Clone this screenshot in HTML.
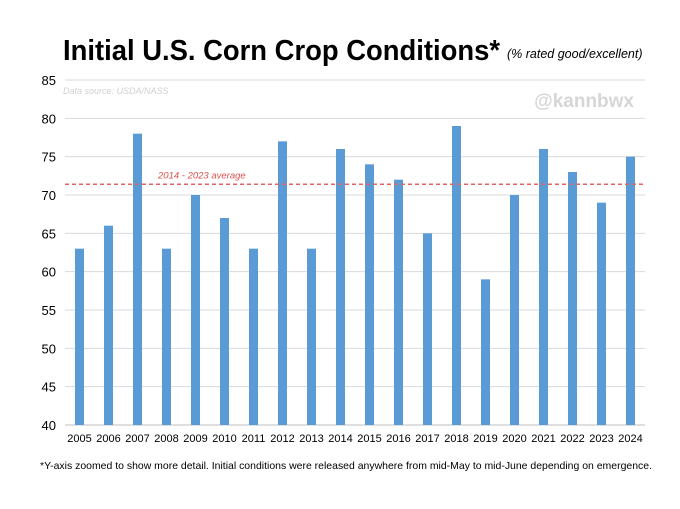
<!DOCTYPE html>
<html><head><meta charset="utf-8"><style>
body{margin:0;background:#fff;font-family:"Liberation Sans",Arial,sans-serif;}
svg text{font-family:"Liberation Sans",Arial,sans-serif;}
</style></head><body>
<svg id="chart" width="680" height="504" xmlns="http://www.w3.org/2000/svg">
<rect width="680" height="504" fill="#fff"/>
<text x="63" y="60" font-size="29" font-weight="bold" fill="#000" textLength="437" lengthAdjust="spacingAndGlyphs">Initial U.S. Corn Crop Conditions*</text>
<text x="507" y="58" font-size="12.5" font-style="italic" fill="#000">(% rated good/excellent)</text>
<text x="63" y="94" font-size="9" font-style="italic" fill="#d0d0d0">Data source: USDA/NASS</text>
<text x="634" y="107" font-size="19" font-weight="bold" fill="#d6d6d6" text-anchor="end">@kannbwx</text>
<g id="grid"></g><g id="bars"></g><g id="avg"></g>
<text x="40" y="469" font-size="10.3" fill="#000" textLength="612" lengthAdjust="spacingAndGlyphs">*Y-axis zoomed to show more detail. Initial conditions were released anywhere from mid-May to mid-June depending on emergence.</text>
</svg>
<script>
const years=["2005","2006","2007","2008","2009","2010","2011","2012","2013","2014","2015","2016","2017","2018","2019","2020","2021","2022","2023","2024"];
const values=[63,66,78,63,70,67,63,77,63,76,74,72,65,79,59,70,76,73,69,75];
const yTicks=[40,45,50,55,60,65,70,75,80,85];
const average=[71.4];
const avgLabel=["2014 - 2023 average"];
const NS="http://www.w3.org/2000/svg";
const x0=65,x1=645,yMin=40,yMax=85,py0=425,py1=80;
const y=v=>py0-(v-yMin)/(yMax-yMin)*(py0-py1);
const step=(x1-x0)/years.length;
const xc=i=>x0+step*(i+0.5);
function mk(t,a,p){const e=document.createElementNS(NS,t);for(const k in a)e.setAttribute(k,a[k]);p.appendChild(e);return e;}
const g=document.getElementById('grid');
yTicks.forEach(v=>{
 const l=mk('line',{x1:x0,x2:x1,y1:y(v),y2:y(v),stroke:v===40?'#bfbfbf':'#d9d9d9','stroke-width':1},g);
 
 
 const t=mk('text',{x:56,y:y(v)+5,'font-size':13,'text-anchor':'end',fill:'#000'},g);
 t.textContent=v;
 
 
});
const b=document.getElementById('bars');
years.forEach((yr,i)=>{
 const r=mk('rect',{x:xc(i)-4.5,y:y(values[i]),width:9,height:py0-y(values[i]),fill:'#5b9bd5'},b);
 
 
 const t=mk('text',{x:xc(i),y:442,'font-size':11,'text-anchor':'middle',fill:'#000'},b);
 t.textContent=yr;
 
 
});
const a=document.getElementById('avg');
const al=mk('line',{x1:x0,x2:x1,y1:y(average[0]),y2:y(average[0]),stroke:'#e06666','stroke-width':1.5,'stroke-dasharray':'4,3'},a);


const at=mk('text',{x:158,y:y(average[0])-6,'font-size':9.5,'font-style':'italic',fill:'#d9534f'},a);
at.textContent=avgLabel[0];


</script>
</body></html>
